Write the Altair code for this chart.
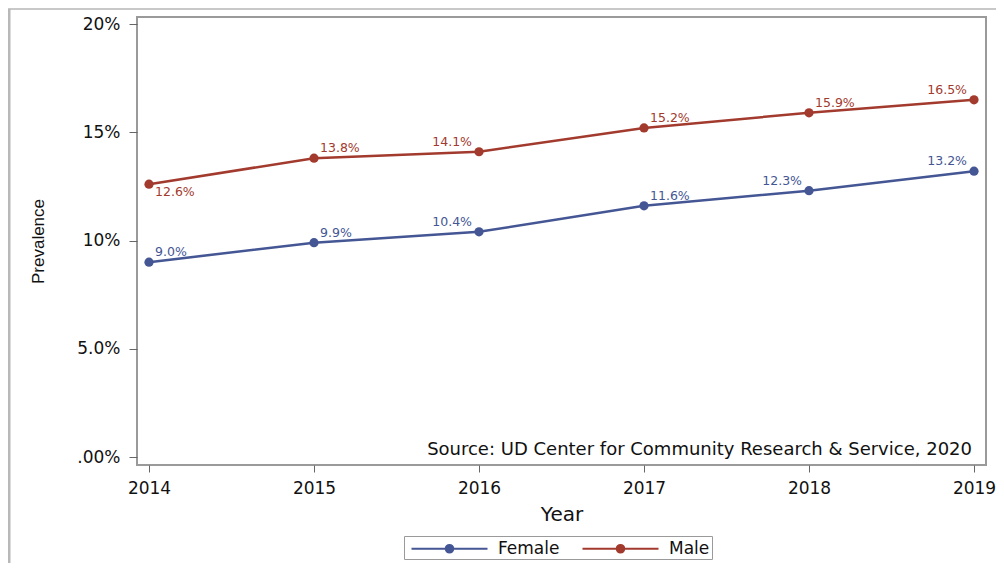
import altair as alt
import pandas as pd

years = [2014, 2015, 2016, 2017, 2018, 2019]
female = [0.090, 0.099, 0.104, 0.116, 0.123, 0.132]
male = [0.126, 0.138, 0.141, 0.152, 0.159, 0.165]
series_names = ["Female", "Male"]
series_colors = ["#445694", "#A23A2E"]
y_tick_values = [0.0, 0.05, 0.10, 0.15, 0.20]
y_tick_labels = [".00%", "5.0%", "10%", "15%", "20%"]
source_note = "Source: UD Center for Community Research & Service, 2020"

# label placement per point: AR = above right, AL = above left, BR = below right
female_place = ["AR", "AR", "AL", "AR", "AL", "AL"]
male_place = ["BR", "AR", "AL", "AR", "AR", "AL"]

rows = []
for y, f, p in zip(years, female, female_place):
    rows.append({"Year": y, "Sex": "Female", "Prevalence": f, "place": p,
                 "label": f"{f*100:.1f}%"})
for y, m, p in zip(years, male, male_place):
    rows.append({"Year": y, "Sex": "Male", "Prevalence": m, "place": p,
                 "label": f"{m*100:.1f}%"})
df = pd.DataFrame(rows)

W, H = 849, 448
FONT = "DejaVu Sans"
TXT = "#111111"

label_expr = " : ".join(
    f"abs(datum.value - {v}) < 1e-6 ? '{l}'" for v, l in zip(y_tick_values, y_tick_labels)
) + " : ''"

xscale = alt.Scale(domain=[2014 - 12 / 165, 2019 + 12 / 165], nice=False, zero=False)
yscale = alt.Scale(domain=[-8 / 433 * 0.2, 0.2 + 7 / 433 * 0.2], nice=False, zero=False)

color_scale = alt.Scale(domain=series_names, range=series_colors)

# legend symbol: a line with a dot; path units scaled by sqrt(size)/2 = 9.5px
legend_symbol = ("M-4,0L4,0M-0.4,0A0.4,0.4 0 1,1 0.4,0"
                 "A0.4,0.4 0 1,1 -0.4,0Z")

x_enc = alt.X("Year:Q", scale=xscale,
              axis=alt.Axis(values=years, format="d", title="Year", grid=False,
                            domain=False, tickSize=7, tickColor="#666666",
                            labelPadding=8, labelFontSize=17, labelFont=FONT,
                            labelColor=TXT, titleFont=FONT, titleFontSize=20,
                            titleFontWeight="normal", titleColor=TXT,
                            titleY=49, titleBaseline="middle"))
y_enc = alt.Y("Prevalence:Q", scale=yscale,
              axis=alt.Axis(values=y_tick_values, labelExpr=label_expr,
                            title="Prevalence", grid=False, domain=False,
                            tickSize=8, tickColor="#666666", labelPadding=9,
                            labelFontSize=17, labelFont=FONT, labelColor=TXT,
                            titleFont="Liberation Sans",
                            titleFontSize=17, titleFontWeight="normal",
                            titleColor=TXT, titleX=-99, titleY=224,
                            titleAngle=270, titleAlign="center",
                            titleBaseline="middle"))

legend = alt.Legend(title=None, orient="none", legendX=267, legendY=519,
                    direction="horizontal", symbolType=legend_symbol,
                    symbolSize=361, symbolStrokeWidth=2, symbolOffset=33,
                    labelFont=FONT, labelFontSize=17, labelColor=TXT,
                    labelOffset=38, columnPadding=17, padding=2,
                    strokeColor="#9a9a9a", fillColor="white", labelLimit=200)

base = alt.Chart(df).encode(x=x_enc, y=y_enc)

lines = base.mark_line(strokeWidth=2.5).encode(
    stroke=alt.Stroke("Sex:N", scale=color_scale, legend=legend))
points = base.mark_point(filled=True, size=85, opacity=1).encode(
    fill=alt.Fill("Sex:N", scale=color_scale, legend=legend))

lab_color = alt.Color("Sex:N", scale=color_scale, legend=None)
lab_ar = base.transform_filter(alt.datum.place == "AR").mark_text(
    align="left", baseline="middle", dx=6, dy=-10, fontSize=12.5, font=FONT
).encode(text="label:N", color=lab_color)
lab_al = base.transform_filter(alt.datum.place == "AL").mark_text(
    align="right", baseline="middle", dx=-7, dy=-10, fontSize=12.5, font=FONT
).encode(text="label:N", color=lab_color)
lab_br = base.transform_filter(alt.datum.place == "BR").mark_text(
    align="left", baseline="middle", dx=6, dy=8, fontSize=12.5, font=FONT
).encode(text="label:N", color=lab_color)

note = alt.Chart(pd.DataFrame({"t": [source_note]})).mark_text(
    align="right", baseline="middle", fontSize=18, font=FONT, color=TXT
).encode(text="t:N", x=alt.value(835), y=alt.value(433))

frame_top = alt.Chart(pd.DataFrame({"a": [0]})).mark_rule(
    color="#c8c8c8", strokeWidth=2
).encode(x=alt.value(-129), x2=alt.value(W + 20), y=alt.value(-8))
frame_left = alt.Chart(pd.DataFrame({"a": [0]})).mark_rule(
    color="#b8b8b8", strokeWidth=3
).encode(x=alt.value(-128), y=alt.value(-8), y2=alt.value(H + 100))

chart = alt.layer(
    frame_top, frame_left, lines, points, lab_ar, lab_al, lab_br, note
).properties(
    width=W, height=H,
    autosize=alt.AutoSizeParams(type="none"),
    padding={"left": 129, "top": 9, "right": 10, "bottom": 98},
).configure_view(
    stroke="#9a9a9a", strokeWidth=2
).resolve_scale(color="independent")

chart.save("out.html", embed_options={"renderer": "svg", "actions": False})
